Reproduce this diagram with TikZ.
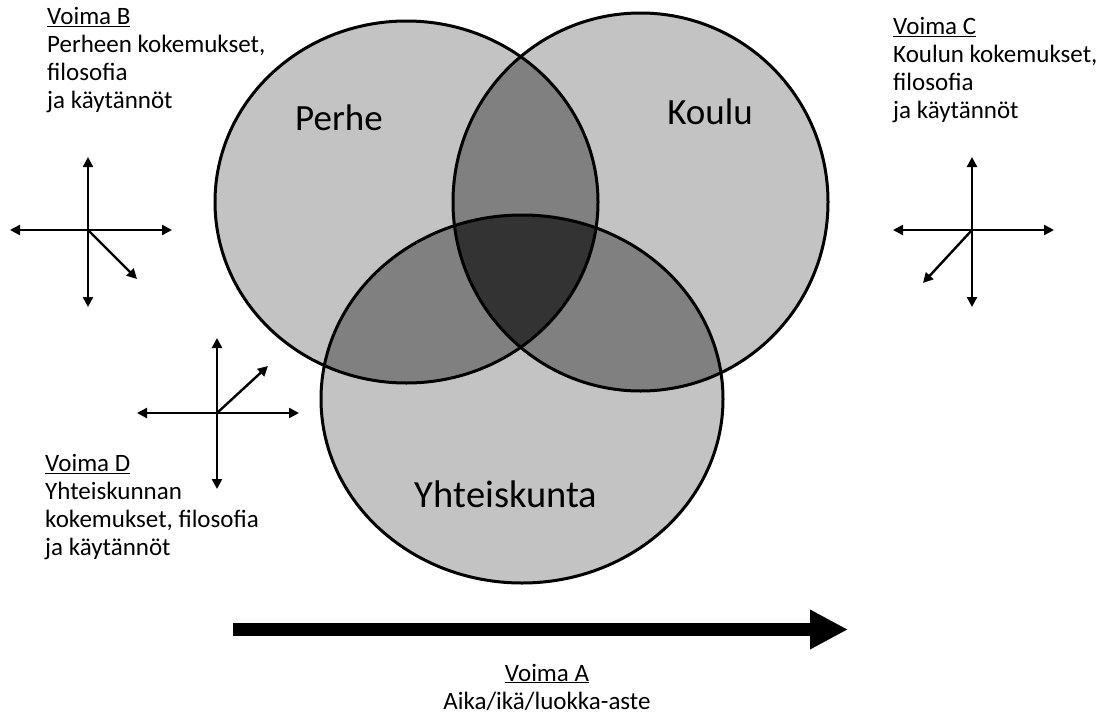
\documentclass[tikz,border=0pt]{standalone}
\usepackage{fontspec}
\setmainfont{Carlito}
\usetikzlibrary{arrows.meta}
\definecolor{lightg}{HTML}{C3C3C3}
\definecolor{midg}{HTML}{808080}
\definecolor{darkg}{HTML}{333333}
\newcommand\ellP{(406.5,202) ellipse [x radius=191.5pt, y radius=181pt]}
\newcommand\ellK{(640.5,202) ellipse [x radius=187.5pt, y radius=189pt]}
\newcommand\ellY{(522,399) ellipse [x radius=201pt, y radius=184pt]}
\tikzset{
  axis/.style={line width=2.4pt, -{Triangle[length=10pt,width=10pt]}},
  outline/.style={line width=3pt, draw=black},
  biglabel/.style={anchor=base, font=\fontsize{37}{44}\selectfont, inner sep=0pt},
  forcelabel/.style={anchor=base west, align=left, inner sep=0pt, font=\fontsize{25}{27.7}\selectfont},
}
\begin{document}
\begin{tikzpicture}[x=1pt,y=-1pt]
\useasboundingbox[fill=white] (0,0) rectangle (1100,715);
% fills
\fill[lightg] \ellP;
\fill[lightg] \ellK;
\fill[lightg] \ellY;
\begin{scope}
  \clip \ellP;
  \fill[midg] \ellK;
  \fill[midg] \ellY;
\end{scope}
\begin{scope}
  \clip \ellK;
  \fill[midg] \ellY;
\end{scope}
\begin{scope}
  \clip \ellP;
  \clip \ellK;
  \fill[darkg] \ellY;
\end{scope}
\draw[outline] \ellP;
\draw[outline] \ellK;
\draw[outline] \ellY;
% circle labels
\node[biglabel] (perhe) at (339,130) {Perhe};
\node[biglabel] (koulu) at (710,124) {Koulu};
\node[biglabel, font=\fontsize{38.5}{44}\selectfont] (yht) at (506,507) {Yhteiskunta};
% force labels (anchored at the baseline of the last line)
\node[forcelabel] (vb) at (47,108) {\underline{Voima B}\\Perheen kokemukset,\\filosofia\\ja käytännöt};
\node[forcelabel] (vc) at (893,118) {\underline{Voima C}\\Koulun kokemukset,\\filosofia\\ja käytännöt};
\node[forcelabel] (vd) at (45,555) {\underline{Voima D}\\Yhteiskunnan\\kokemukset, filosofia\\ja käytännöt};
\node[anchor=base, align=center, inner sep=0pt, font=\fontsize{25}{28}\selectfont] (va) at (547,709) {\underline{Voima A}\\Aika/ikä/luokka-aste};
% cross B
\coordinate (bO) at (88,230);
\coordinate (bU) at (88,157);
\coordinate (bD) at (88,307);
\coordinate (bL) at (10,230);
\coordinate (bR) at (172,230);
\coordinate (bX) at (137,279);
\draw[axis] (bO) -- (bU);
\draw[axis] (bO) -- (bD);
\draw[axis] (bO) -- (bL);
\draw[axis] (bO) -- (bR);
\draw[axis] (bO) -- (bX);
% cross C
\coordinate (cO) at (972,230);
\coordinate (cU) at (972,157);
\coordinate (cD) at (972,307);
\coordinate (cL) at (893,230);
\coordinate (cR) at (1054,230);
\coordinate (cX) at (923,283);
\draw[axis] (cO) -- (cU);
\draw[axis] (cO) -- (cD);
\draw[axis] (cO) -- (cL);
\draw[axis] (cO) -- (cR);
\draw[axis] (cO) -- (cX);
% cross D
\coordinate (dO) at (217,413);
\coordinate (dU) at (217,338);
\coordinate (dD) at (217,489);
\coordinate (dL) at (137,413);
\coordinate (dR) at (299,413);
\coordinate (dX) at (268,366);
\draw[axis] (dO) -- (dU);
\draw[axis] (dO) -- (dD);
\draw[axis] (dO) -- (dL);
\draw[axis] (dO) -- (dR);
\draw[axis] (dO) -- (dX);
% time arrow
\coordinate (aS) at (233,629.5);
\coordinate (aE) at (848,629.5);
\draw[line width=13pt, -{Triangle[length=38pt,width=37pt]}] (aS) -- (aE);
\end{tikzpicture}
\end{document}
